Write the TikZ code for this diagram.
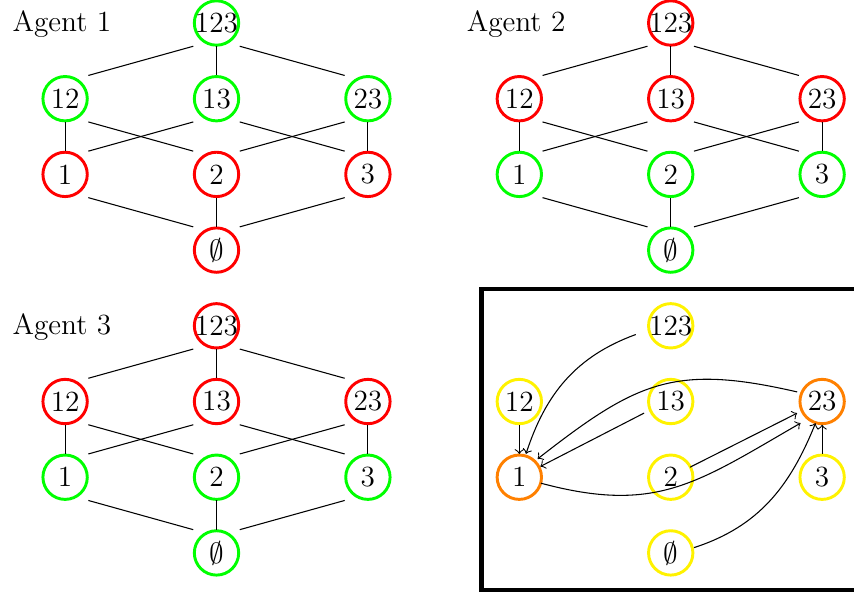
\documentclass[tikz,border=0pt]{standalone}
\usetikzlibrary{calc}
\tikzset{
  vtx/.style={rectangle, minimum size=0.6cm, inner sep=0pt,
    append after command={\pgfextra{\pgfinterruptpath\draw[line width=1.1pt,#1] (\tikzlastnode.center) circle (0.293cm);\endpgfinterruptpath}}},
  lab/.style={anchor=base west, inner sep=0pt},
  ln/.style={line width=0.4pt},
  arr/.style={->, line width=0.4pt},
  frame/.style={line width=1.7pt},
  every node/.style={font=\fontsize{11}{13}\selectfont}
}
% #1 prefix, #2 origin, colours: #3 123, #4 12/13, #5 23, #6 1, #7 2/3/empty
\newcommand\latnodes[7]{%
  \begin{scope}[shift={#2}]
    \node[vtx=#3] (#1-123) at (0,0) {123};
    \node[vtx=#4] (#1-12) at (-2,-1) {12};
    \node[vtx=#4] (#1-13) at (0,-1) {13};
    \node[vtx=#5] (#1-23) at (2,-1) {23};
    \node[vtx=#6] (#1-1) at (-2,-2) {1};
    \node[vtx=#7] (#1-2) at (0,-2) {2};
    \node[vtx=#7] (#1-3) at (2,-2) {3};
    \node[vtx=#7] (#1-e) at (0,-3) {$\emptyset$};
  \end{scope}}
\newcommand\latedges[1]{%
  \draw[ln] (#1-123.south west) -- (#1-12.north east);
  \draw[ln] (#1-123.south) -- (#1-13.north);
  \draw[ln] (#1-123.south east) -- (#1-23.north west);
  \draw[ln] (#1-12.south) -- (#1-1.north);
  \draw[ln] (#1-12.south east) -- (#1-2.north west);
  \draw[ln] (#1-13.south west) -- (#1-1.north east);
  \draw[ln] (#1-13.south east) -- (#1-3.north west);
  \draw[ln] (#1-23.south west) -- (#1-2.north east);
  \draw[ln] (#1-23.south) -- (#1-3.north);
  \draw[ln] (#1-1.south east) -- (#1-e.north west);
  \draw[ln] (#1-2.south) -- (#1-e.north);
  \draw[ln] (#1-3.south west) -- (#1-e.north east);}
\begin{document}
\begin{tikzpicture}
\useasboundingbox (0,0) rectangle (11.281,-7.847);

\node[lab] (lab1) at (0.159,-0.419) {Agent 1};
\node[lab] (lab2) at (6.159,-0.419) {Agent 2};
\node[lab] (lab3) at (0.159,-4.419) {Agent 3};

\latnodes{a}{(2.860,-0.304)}{green}{green}{green}{red}{red}
\latedges{a}
\latnodes{b}{(8.860,-0.304)}{red}{red}{red}{green}{green}
\latedges{b}
\latnodes{c}{(2.860,-4.304)}{red}{red}{red}{green}{green}
\latedges{c}

\draw[frame] (6.361,-3.818) rectangle (11.6,-7.794);

\latnodes{d}{(8.860,-4.304)}{yellow}{yellow}{orange}{orange}{yellow}

\draw[arr] ($(d-123.center)+(194:0.476)$) to[out=200,in=72] ($(d-1.center)+(74:0.321)$);
\draw[arr] (d-12.south) -- (d-1.north);
\draw[arr] ($(d-13.center)+(203.5:0.384)$) -- ($(d-1.center)+(27:0.312)$);
\draw[arr] ($(d-23.center)+(159:0.353)$) to[out=167,in=38,looseness=1.2] ($(d-1.center)+(45:0.343)$);
\draw[arr] ($(d-1.center)+(-15.5:0.297)$) to[out=-15,in=210,looseness=1.15] ($(d-23.center)+(225:0.404)$);
\draw[arr] ($(d-2.center)+(27.4:0.287)$) -- ($(d-23.center)+(205:0.365)$);
\draw[arr] ($(d-e.center)+(12.8:0.316)$) to[out=18,in=248] ($(d-23.center)+(253:0.3)$);
\draw[arr] (d-3.north) -- (d-23.south);
\end{tikzpicture}
\end{document}
